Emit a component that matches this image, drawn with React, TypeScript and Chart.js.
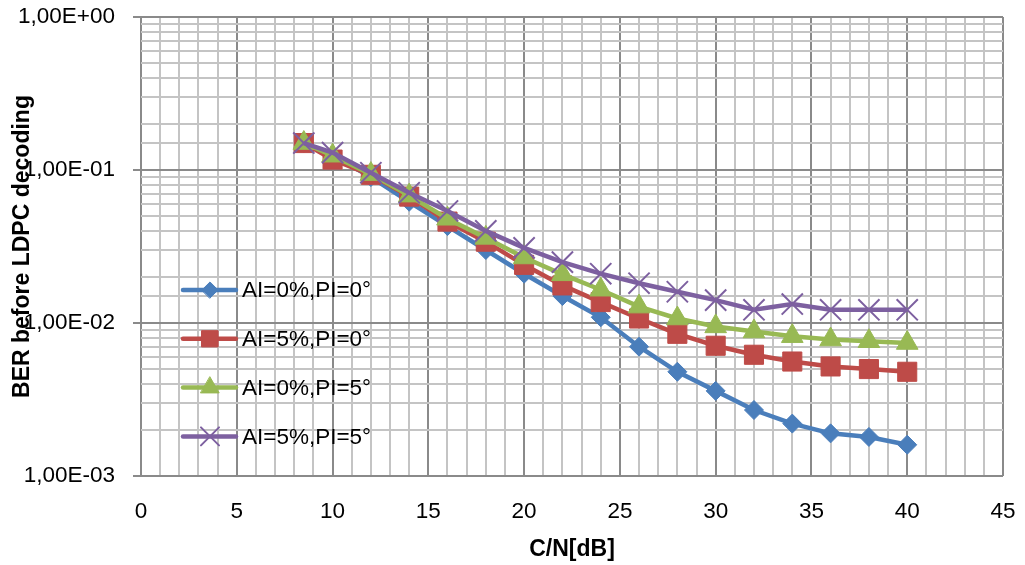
import React, { useEffect, useRef } from "react";
import { Chart, registerables } from "chart.js";
import { drawPoint } from "chart.js/helpers";

Chart.register(...registerables);

const xValues = [8.5, 10, 12, 14, 16, 18, 20, 22, 24, 26, 28, 30, 32, 34, 36, 38, 40];
const seriesNames = ["AI=0%,PI=0°", "AI=5%,PI=0°", "AI=0%,PI=5°", "AI=5%,PI=5°"];
const ai0pi0 = [0.150, 0.125, 0.090, 0.062, 0.043, 0.030, 0.021, 0.015, 0.0109, 0.0070, 0.0048, 0.0036, 0.0027, 0.0022, 0.0019, 0.0018, 0.0016];
const ai5pi0 = [0.150, 0.117, 0.093, 0.067, 0.046, 0.034, 0.024, 0.0176, 0.0137, 0.0107, 0.0085, 0.0071, 0.0062, 0.0056, 0.0052, 0.0050, 0.0048];
const ai0pi5 = [0.150, 0.124, 0.094, 0.068, 0.048, 0.036, 0.0268, 0.0208, 0.0165, 0.0128, 0.0107, 0.0095, 0.0088, 0.0082, 0.0078, 0.0076, 0.0074];
const ai5pi5 = [0.150, 0.130, 0.096, 0.071, 0.054, 0.040, 0.031, 0.025, 0.021, 0.0182, 0.0160, 0.0141, 0.0122, 0.0133, 0.0122, 0.0122, 0.0122];

const yTickValues = [0.001, 0.01, 0.1, 1];
const yTickLabels = ["1,00E-03", "1,00E-02", "1,00E-01", "1,00E+00"];
const xTickValues = [0, 5, 10, 15, 20, 25, 30, 35, 40, 45];
const xTickLabels = ["0", "5", "10", "15", "20", "25", "30", "35", "40", "45"];

const xTitle = "C/N[dB]";
const yTitle = "BER before LDPC decoding";

const colors = ["#4A7EBB", "#BE4B48", "#98B954", "#7D60A0"];
const FONT = "'Liberation Sans', Arial, sans-serif";

const MAJOR_GRID = "#8a8a8a";
const MINOR_GRID = "#c4c4c4";

function isDecade(v: number) {
  const l = Math.log10(v);
  return Math.abs(l - Math.round(l)) < 1e-6;
}

const legendPlugin = {
  id: "insideLegend",
  afterDatasetsDraw(chart: any) {
    const { ctx, chartArea } = chart;
    const x0 = chartArea.left + 42;
    const y0 = chartArea.top + 273;
    const rowH = 48.8;
    ctx.save();
    chart.data.datasets.forEach((ds: any, i: number) => {
      const y = y0 + i * rowH;
      ctx.strokeStyle = ds.borderColor;
      ctx.lineWidth = ds.borderWidth;
      ctx.lineCap = "round";
      ctx.beginPath();
      ctx.moveTo(x0, y);
      ctx.lineTo(x0 + 53, y);
      ctx.stroke();
      ctx.fillStyle = ds.pointBackgroundColor;
      ctx.strokeStyle = ds.pointBorderColor;
      ctx.lineWidth = ds.pointBorderWidth;
      drawPoint(ctx, { pointStyle: ds.pointStyle, radius: ds.pointRadius * 0.85, borderWidth: ds.pointBorderWidth, rotation: 0 }, x0 + 27, y);
      ctx.fillStyle = "#000";
      ctx.font = `22.5px ${FONT}`;
      ctx.textAlign = "left";
      ctx.textBaseline = "middle";
      ctx.fillText(ds.label, x0 + 59, y + 1);
    });
    ctx.restore();
  },
};

export default function App() {
  const ref = useRef<HTMLCanvasElement>(null);
  useEffect(() => {
    if (!ref.current) return;
    const mk = (vals: number[]) => xValues.map((x, i) => ({ x, y: vals[i] }));
    const styles = [
      { pointStyle: "rectRot", pointRadius: 9.5, pointBorderWidth: 1 },
      { pointStyle: "rect", pointRadius: 13.5, pointBorderWidth: 1 },
      { pointStyle: "triangle", pointRadius: 12.5, pointBorderWidth: 1 },
      { pointStyle: "crossRot", pointRadius: 15, pointBorderWidth: 2 },
    ];
    const allVals = [ai0pi0, ai5pi0, ai0pi5, ai5pi5];
    const chart = new Chart(ref.current, {
      type: "line",
      data: {
        datasets: allVals.map((vals, i) => ({
          label: seriesNames[i],
          data: mk(vals),
          borderColor: colors[i],
          backgroundColor: colors[i],
          pointBackgroundColor: colors[i],
          pointBorderColor: colors[i],
          borderWidth: 4.5,
          pointHoverRadius: styles[i].pointRadius,
          tension: 0,
          order: 3 - i,
          ...styles[i],
        })),
      },
      options: {
        animation: false,
        responsive: false,
        devicePixelRatio: 1,
        layout: { padding: { left: 0, top: 17, right: 22, bottom: 0 } },
        plugins: { legend: { display: false }, tooltip: { enabled: false } },
        scales: {
          x: {
            type: "linear",
            min: 0,
            max: 45,
            afterFit: (s: any) => {
              s.height = 89;
              s.paddingLeft = 0;
              s.paddingRight = 0;
            },
            ticks: {
              stepSize: 1,
              autoSkip: false,
              maxRotation: 0,
              padding: 22,
              color: "#000",
              font: { family: FONT, size: 22.5 },
              callback: (v: any) => {
                const idx = xTickValues.indexOf(Number(v));
                return idx >= 0 ? xTickLabels[idx] : "";
              },
            },
            grid: {
              drawTicks: false,
              lineWidth: 2,
              color: (c: any) => (c.tick && c.tick.value % 5 === 0 ? MAJOR_GRID : MINOR_GRID),
            },
            border: { display: false },
            title: {
              display: true,
              text: xTitle,
              color: "#000",
              font: { family: FONT, size: 23, weight: "bold" },
              padding: { top: 0, bottom: 2 },
            },
          },
          y: {
            type: "logarithmic",
            min: 0.001,
            max: 1,
            afterFit: (s: any) => {
              s.width = 141;
              s.paddingTop = 0;
              s.paddingBottom = 0;
            },
            ticks: {
              autoSkip: false,
              padding: 18,
              color: "#000",
              font: { family: FONT, size: 22.5 },
              callback: (v: any) => {
                const n = Number(v);
                const idx = yTickValues.findIndex((t) => Math.abs(t - n) / t < 1e-6);
                return idx >= 0 ? yTickLabels[idx] : "";
              },
            },
            grid: {
              lineWidth: 2,
              tickLength: 8,
              color: (c: any) => (c.tick && isDecade(c.tick.value) ? MAJOR_GRID : MINOR_GRID),
              tickColor: (c: any) => (c.tick && isDecade(c.tick.value) ? MAJOR_GRID : "rgba(0,0,0,0)"),
            },
            border: { display: false },
            title: {
              display: true,
              text: yTitle,
              color: "#000",
              font: { family: FONT, size: 23, weight: "bold" },
              padding: { top: 9, bottom: 0 },
            },
          },
        },
      },
      plugins: [legendPlugin],
    } as any);
    return () => chart.destroy();
  }, []);
  return (
    <div style={{ position: "fixed", left: 0, top: 0, width: 1025, height: 565, background: "#fff" }}>
      <canvas ref={ref} width={1025} height={565} />
    </div>
  );
}
